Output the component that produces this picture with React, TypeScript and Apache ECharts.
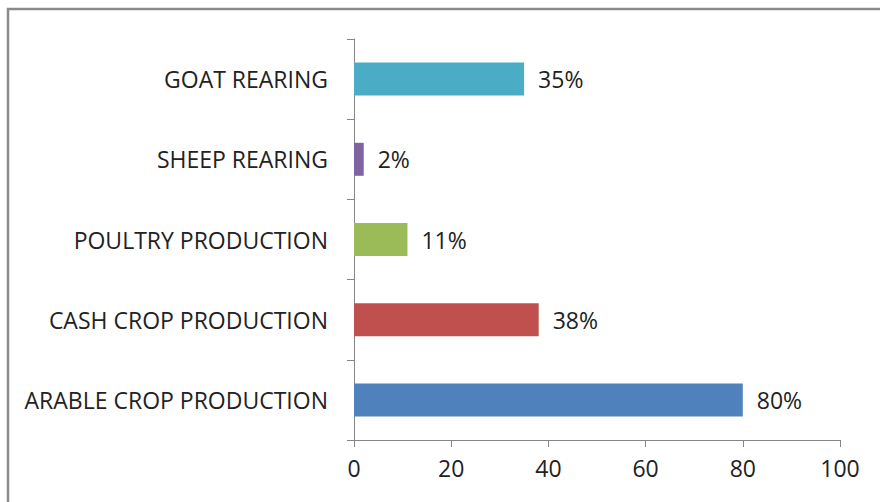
import React, { useEffect, useRef } from "react";
import * as echarts from "echarts";

// Categories listed bottom-to-top, as the category axis draws them
const categories = [
  "ARABLE CROP PRODUCTION",
  "CASH CROP PRODUCTION",
  "POULTRY PRODUCTION",
  "SHEEP REARING",
  "GOAT REARING",
];
const shares = [80, 38, 11, 2, 35];
const barColors = ["#4F81BD", "#C0504D", "#9BBB59", "#8064A2", "#4BACC6"];
const xTicks = [0, 20, 40, 60, 80, 100];

const FONT = "'Open Sans', Lato, sans-serif";
const FONT_SIZE = 23;

export default function App() {
  const ref = useRef<HTMLDivElement>(null);

  useEffect(() => {
    if (!ref.current) return;
    const chart = echarts.init(ref.current, undefined, { renderer: "svg" });
    chart.setOption({
      animation: false,
      backgroundColor: "#ffffff",
      grid: { left: 354, right: 40, top: 39, bottom: 62, containLabel: false },
      graphic: [
        {
          type: "rect",
          shape: { x: 8, y: 9, width: 900, height: 600 },
          style: { fill: "none", stroke: "#8a8a8a", lineWidth: 2.5 },
          silent: true,
        },
      ],
      xAxis: {
        type: "value",
        min: xTicks[0],
        max: xTicks[xTicks.length - 1],
        interval: 20,
        splitLine: { show: false },
        axisLine: { show: true, lineStyle: { color: "#868686", width: 1 } },
        axisTick: { show: true, length: 7, lineStyle: { color: "#868686" } },
        axisLabel: {
          color: "#222",
          fontFamily: FONT,
          fontSize: FONT_SIZE,
          margin: 16,
        },
      },
      yAxis: {
        type: "category",
        data: categories,
        axisLine: { show: true, lineStyle: { color: "#868686", width: 1 } },
        axisTick: { show: true, length: 7, lineStyle: { color: "#868686" } },
        axisLabel: {
          color: "#222",
          fontFamily: FONT,
          fontSize: FONT_SIZE,
          margin: 26,
        },
      },
      series: [
        {
          type: "bar",
          data: shares.map((v, i) => ({ value: v, itemStyle: { color: barColors[i] } })),
          barWidth: 33,
          label: {
            show: true,
            position: "right",
            distance: 14,
            formatter: "{c}%",
            color: "#222",
            fontFamily: FONT,
            fontSize: FONT_SIZE,
          },
        },
      ],
    });
    return () => chart.dispose();
  }, []);

  return (
    <div
      ref={ref}
      style={{ position: "fixed", left: 0, top: 0, width: 880, height: 502 }}
    />
  );
}
